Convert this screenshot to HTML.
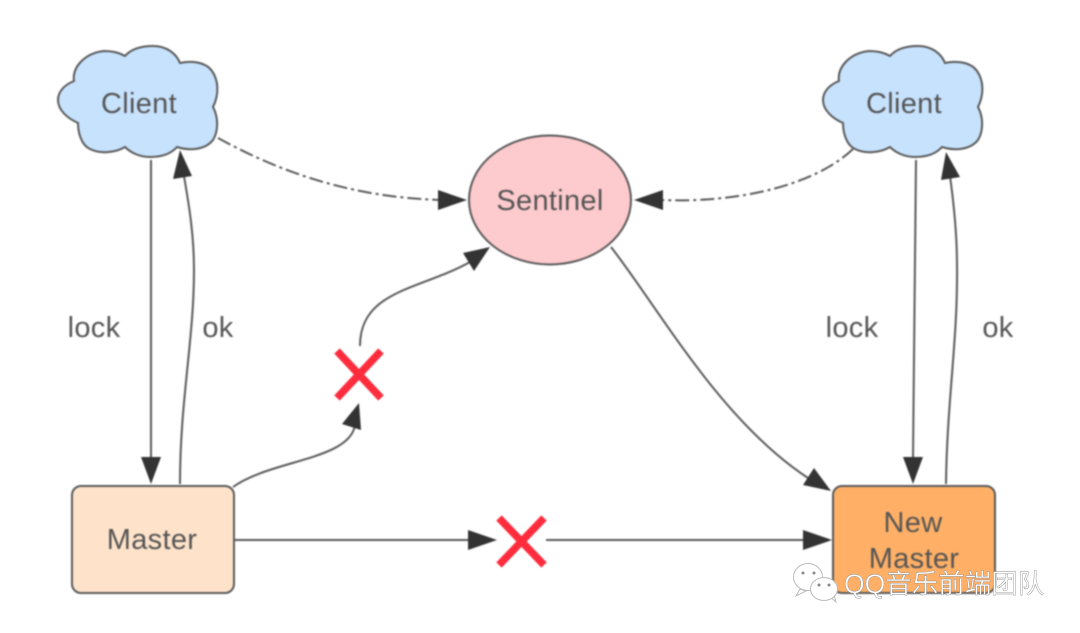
<!DOCTYPE html>
<html>
<head>
<meta charset="utf-8">
<style>
html,body{margin:0;padding:0;background:#fff;width:1080px;height:633px;overflow:hidden}
svg{display:block}
.main{filter:blur(0.7px)}
text{font-family:"Liberation Sans",sans-serif;font-size:29px;letter-spacing:.3px;fill:#555;text-anchor:middle}
text.wm{font-family:"Liberation Sans","Noto Sans CJK SC",sans-serif;font-size:26.500px;letter-spacing:0;fill:#fff;stroke:#888;stroke-width:.4;text-anchor:start}
.c{fill:none;stroke:#5a5a5a;stroke-width:2}
.a{fill:#333;stroke:none}
</style>
</head>
<body>
<svg width="1080" height="633" viewBox="0 0 1080 633" xmlns="http://www.w3.org/2000/svg">
<defs>
<path id="cloud" d="M74 81 C72 67 85 53 104 51 C112 51 120 53 125 56 C132 48 143 46 153 46 C166 46 176 53 180 63 C190 61 205 61 212 71 C219 81 219 95 213 107 C219 118 218 132 213 140 C205 150 190 151 177 147 C170 155 160 157 150 157 C140 157 131 153 125 147 C115 153 100 154 90 149 C81 145 78 132 78 123 C67 118 58 110 58 100 C58 92 64 85 74 81 Z"/>
</defs>

<g class="main">
<use href="#cloud" fill="#c7e2fd" stroke="#5a5a5a" stroke-width="2"/>
<use href="#cloud" x="765" fill="#c7e2fd" stroke="#5a5a5a" stroke-width="2"/>

<ellipse cx="550" cy="200" ry="64.500" rx="81" fill="#fdcacd" stroke="#5a5a5a" stroke-width="2"/>
<rect x="72" y="486" width="162" height="107" rx="9" fill="#fee3ca" stroke="#5a5a5a" stroke-width="2"/>
<rect x="833" y="486" width="162" height="107" rx="9" fill="#ffb066" stroke="#5a5a5a" stroke-width="2"/>

<!-- Left client links -->
<path class="c" d="M151 160 L151 458"/>
<path class="a" d="M151 484 L141 457 L161 457 Z"/>
<path class="c" d="M180 484 C180 400 194 340 194 270 C194 235 189 205 184 176"/>
<path class="a" d="M180 150 L192 176 L173 179 Z"/>

<!-- Right client links -->
<path class="c" d="M916 160 L913 458"/>
<path class="a" d="M913 484 L903 457 L923 457 Z"/>
<path class="c" d="M946 484 C947 400 958 340 957 265 C957 235 954 205 950 176"/>
<path class="a" d="M946 152 L960 177 L941 180 Z"/>

<!-- Dash-dot -->
<path d="M218 138 C280 172 350 197 440 200" fill="none" stroke="#5a5a5a" stroke-width="2" stroke-dasharray="14 4 3 4"/>
<path class="a" d="M467 200 L438 190 L438 210 Z"/>
<path d="M853 149 C815 185 740 203 662 200" fill="none" stroke="#5a5a5a" stroke-width="2" stroke-dasharray="14 4 3 4"/>
<path class="a" d="M634 200 L663 190 L663 210 Z"/>

<!-- Sentinel to New Master -->
<path class="c" d="M611 247 C660 310 720 420 808 478"/>
<path class="a" d="M831 491 L803 485 L814 468 Z"/>

<!-- Master to X to Sentinel -->
<path class="c" d="M233 487 C270 460 350 460 355 425"/>
<path class="a" d="M359 403 L361 430 L342 424 Z"/>
<path class="c" d="M360 346 C360 290 420 290 470 262"/>
<path class="a" d="M490 247 L474 271 L463 253 Z"/>

<!-- Master to New Master -->
<path class="c" d="M234 540 L470 540"/>
<path class="a" d="M497 540 L468 530 L468 550 Z"/>
<path class="c" d="M546 540 L805 540"/>
<path class="a" d="M832 540 L803 530 L803 550 Z"/>

<!-- Red crosses -->
<path d="M337 351 L381 398 M381 351 L337 398" stroke="#fe2c3d" stroke-width="7.500" fill="none"/>
<path d="M499 518 L544 565 M544 518 L499 565" stroke="#fe2c3d" stroke-width="7.500" fill="none"/>

<!-- Labels -->
<text x="139" y="113">Client</text>
<text x="904" y="113">Client</text>
<text x="550" y="210">Sentinel</text>
<text x="94" y="337">lock</text>
<text x="218" y="337">ok</text>
<text x="852" y="337">lock</text>
<text x="998" y="337">ok</text>
<text x="152" y="549">Master</text>
<text x="913" y="532">New</text>
<text x="914" y="568">Master</text>
</g>

<!-- Watermark -->
<g fill="#fff" stroke="#bbb" stroke-width="1">
<path d="M800 589 L796 596 L806 591 Z"/>
<ellipse cx="808" cy="577" rx="14.500" ry="13.500"/>
<path d="M830 597 L836 602 L834 595 Z"/>
<ellipse cx="824" cy="589" rx="13.500" ry="11.500"/>
</g>
<g fill="#888">
<circle cx="803" cy="573" r="1.500"/><circle cx="814" cy="573" r="1.500"/>
<circle cx="819" cy="585" r="1.500"/><circle cx="829" cy="585" r="1.500"/>
</g>
<text class="wm" x="844" y="593">QQ音乐前端团队</text>
</svg>
</body>
</html>
